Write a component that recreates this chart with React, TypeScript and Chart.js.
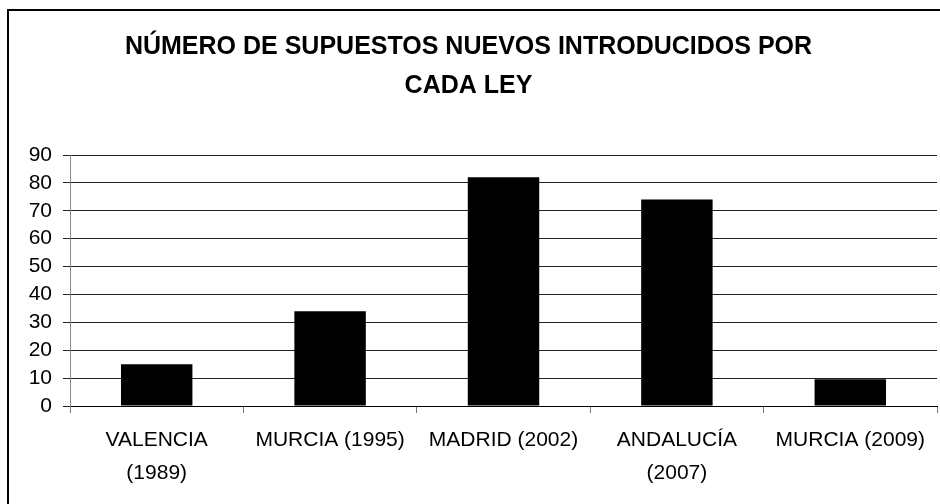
import React, { useEffect, useRef } from "react";
import { Chart, registerables } from "chart.js";

Chart.register(...registerables);

const titleLines = ["NÚMERO DE SUPUESTOS NUEVOS INTRODUCIDOS POR", "CADA LEY"];
const categories: string[][] = [
  ["VALENCIA", "(1989)"],
  ["MURCIA (1995)"],
  ["MADRID (2002)"],
  ["ANDALUCÍA", "(2007)"],
  ["MURCIA (2009)"],
];
const values = [15, 34, 82, 74, 9.6];
const yMin = 0;
const yMax = 90;
const yStep = 10;

const FONT = "'Liberation Sans', Arial, sans-serif";

export default function App() {
  const ref = useRef<HTMLCanvasElement | null>(null);

  useEffect(() => {
    if (!ref.current) return;
    const chart = new Chart(ref.current, {
      type: "bar",
      data: {
        labels: categories,
        datasets: [
          {
            data: values,
            backgroundColor: "#000000",
            borderWidth: 0,
            barPercentage: 0.412,
            categoryPercentage: 1,
          },
        ],
      },
      options: {
        responsive: false,
        animation: false,
        devicePixelRatio: 1,
        layout: { padding: { left: 0, right: 3, top: 0, bottom: 0 } },
        plugins: {
          legend: { display: false },
          tooltip: { enabled: false },
          title: {
            display: true,
            text: titleLines,
            color: "#000",
            font: { family: FONT, size: 25, weight: "bold", lineHeight: 1.56 },
            padding: { top: 28, bottom: 49 },
          },
        },
        scales: {
          x: {
            grid: {
              display: true,
              drawOnChartArea: false,
              drawTicks: true,
              tickLength: 7,
              offset: true,
              color: "#777",
            },
            border: { display: true, color: "#000" },
            ticks: {
              color: "#000",
              font: { family: FONT, size: 21, lineHeight: 1.571 },
              padding: 10.5,
              maxRotation: 0,
              autoSkip: false,
            },
            afterFit: (scale: any) => {
              scale.height = 98;
            },
          },
          y: {
            min: yMin,
            max: yMax,
            grid: {
              color: "#222",
              drawTicks: true,
              tickLength: 7,
            },
            border: { display: true, color: "#888" },
            ticks: {
              stepSize: yStep,
              autoSkip: false,
              color: "#000",
              font: { family: FONT, size: 21 },
              padding: 11,
            },
            afterFit: (scale: any) => {
              scale.width = 70;
            },
          },
        },
      },
    });
    return () => chart.destroy();
  }, []);

  return (
    <>
      <div
        style={{
          position: "fixed",
          left: 0,
          top: 0,
          width: 940,
          height: 504,
          background: "#fff",
        }}
      >
        <canvas ref={ref} width={940} height={504} style={{ display: "block" }} />
      </div>
      <div
        style={{
          position: "fixed",
          left: 7,
          top: 9,
          width: 960,
          height: 520,
          borderLeft: "2px solid #000",
          borderTop: "2px solid #000",
          pointerEvents: "none",
        }}
      />
    </>
  );
}
